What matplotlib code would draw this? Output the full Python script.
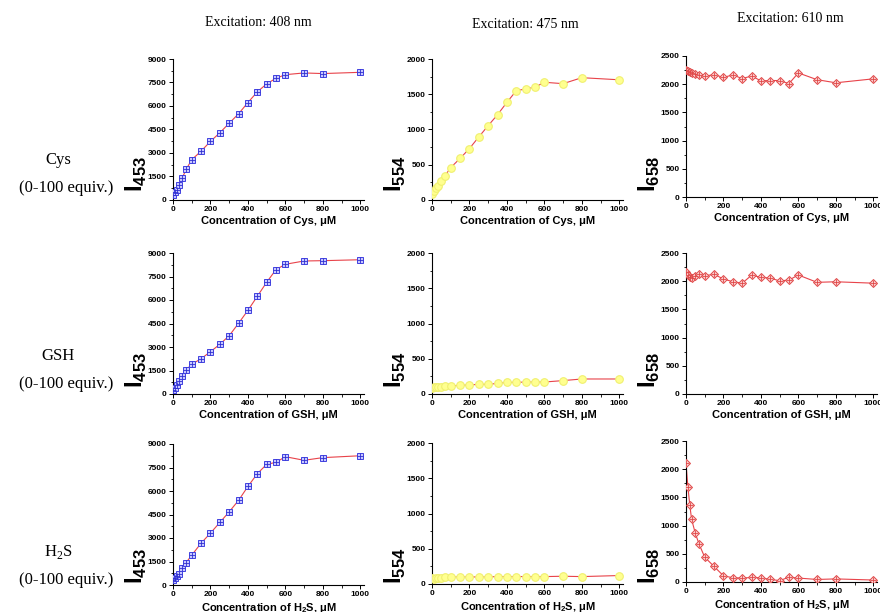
import matplotlib
matplotlib.use("Agg")
import matplotlib.pyplot as plt
from matplotlib.ticker import MultipleLocator

plt.rcParams["mathtext.fontset"] = "custom"
plt.rcParams["mathtext.rm"] = "Liberation Serif"
plt.rcParams["mathtext.bf"] = "Liberation Sans:bold"

# concentration points (uM)
conc = [0, 10, 20, 30, 50, 70, 100, 150, 200, 250, 300, 350, 400, 450, 500, 550, 600, 700, 800, 1000]

# I453 (excitation 408 nm)
cys_453 = [300, 480, 660, 980, 1420, 1950, 2570, 3120, 3740, 4290, 4900, 5500, 6220, 6900, 7410, 7770, 8000, 8110, 8070, 8150]
gsh_453 = [280, 400, 560, 830, 1170, 1530, 1900, 2250, 2700, 3170, 3720, 4510, 5340, 6230, 7130, 7940, 8280, 8490, 8510, 8570]
h2s_453 = [300, 470, 580, 725, 1070, 1430, 1900, 2670, 3310, 3990, 4670, 5400, 6290, 7100, 7700, 7830, 8190, 7960, 8130, 8250]

# I554 (excitation 475 nm)
cys_554 = [90, 130, 170, 205, 265, 345, 460, 590, 730, 895, 1055, 1210, 1385, 1550, 1575, 1600, 1670, 1650, 1735, 1705]
gsh_554 = [90, 95, 100, 102, 105, 108, 113, 123, 128, 137, 137, 150, 165, 165, 170, 170, 170, 190, 213, 213]
h2s_554 = [80, 75, 82, 85, 90, 95, 100, 100, 100, 100, 100, 105, 105, 105, 105, 105, 105, 110, 105, 120]

# I658 (excitation 610 nm)
cys_658 = [2260, 2240, 2220, 2200, 2180, 2165, 2140, 2170, 2120, 2165, 2100, 2145, 2060, 2065, 2065, 2010, 2200, 2080, 2025, 2095]
gsh_658 = [2165, 2110, 2080, 2065, 2090, 2120, 2100, 2120, 2040, 1990, 1965, 2105, 2070, 2055, 2005, 2020, 2110, 1980, 1990, 1965]
h2s_658 = [2110, 1690, 1370, 1110, 860, 670, 440, 275, 110, 75, 70, 80, 75, 45, 25, 85, 70, 45, 55, 35]

analytes = ["Cys", "GSH", r"H$_\mathrm{2}$S"]
xnames = ["Cys", "GSH", r"H$_\mathbf{2}$S"]
excitations = ["Excitation: 408 nm", "Excitation: 475 nm", "Excitation: 610 nm"]
channels = ["453", "554", "658"]
data = [[cys_453, cys_554, cys_658],
        [gsh_453, gsh_554, gsh_658],
        [h2s_453, h2s_554, h2s_658]]

W, H = 880, 612
fig = plt.figure(figsize=(8.8, 6.12), dpi=100)

col_left = [173, 432, 686]
col_w = 191
row_top = [[59, 59, 56], [253, 253, 253], [444, 443, 441]]
ax_h = 141
row_label_y = [188, 384, 580]

ylims = [9000, 2000, 2500]
ymajor = [1500, 500, 500]

sans = "Liberation Sans"
serif = "Liberation Serif"

for r in range(3):
    for c in range(3):
        top = row_top[r][c]
        ax = fig.add_axes([col_left[c] / W, 1 - (top + ax_h) / H, col_w / W, ax_h / H])
        y = data[r][c]
        ax.plot(conc, y, color="#e8434a", lw=0.8, zorder=2)
        if c == 0:
            ax.plot(conc, y, ls="none", marker="s", ms=4.5, mfc="#c8c8ff",
                    mec="#4040e0", mew=0.7, zorder=3)
            ax.plot(conc, y, ls="none", marker="+", ms=4.5, mec="#3030d0", mew=0.6, zorder=4)
        elif c == 1:
            ax.plot(conc, y, ls="none", marker="o", ms=5.5, mfc="#ffff90",
                    mec="#f0f070", mew=0.8, zorder=3)
        else:
            ax.plot(conc, y, ls="none", marker="D", ms=4.5, mfc="#fbd0d0",
                    mec="#e04848", mew=0.7, zorder=3)
            ax.plot(conc, y, ls="none", marker="+", ms=5, mec="#e04848", mew=0.6, zorder=4)

        ax.set_xlim(0, 1020)
        ax.set_ylim(0, ylims[c])
        ax.xaxis.set_major_locator(MultipleLocator(200))
        ax.xaxis.set_minor_locator(MultipleLocator(100))
        ax.yaxis.set_major_locator(MultipleLocator(ymajor[c]))
        ax.yaxis.set_minor_locator(MultipleLocator(ymajor[c] / 2))
        for s in ["top", "right"]:
            ax.spines[s].set_visible(False)
        for s in ["left", "bottom"]:
            ax.spines[s].set_linewidth(0.8)
        ax.tick_params(which="major", direction="out", length=3, width=0.7, pad=1.5)
        ax.tick_params(which="minor", direction="out", length=1.8, width=0.6)
        for lab in ax.get_xticklabels() + ax.get_yticklabels():
            lab.set_fontsize(6)
            lab.set_fontweight("bold")
            lab.set_fontfamily(sans)

        ax.set_xlabel("Concentration of %s, \u03bcM" % xnames[r], fontsize=8,
                      fontweight="bold", family=sans, labelpad=2)
        # y label: big I with subscript, sitting low beside the row label
        lx = (col_left[c] - 24) / W
        ly = 1 - (row_label_y[r] + 4) / H
        fig.text(lx, ly, r"$\mathbf{I}_{\mathbf{%s}}$" % channels[c], fontsize=17,
                 rotation=90, ha="right", va="bottom")

    fig.text(58 / W, 1 - (row_label_y[r] - 28) / H, analytes[r], ha="center",
             va="center", fontsize=12, family=serif)
    fig.text(66 / W, 1 - row_label_y[r] / H, "(0-100 equiv.)", ha="center",
             va="center", fontsize=12, family=serif)

# column titles
for x, yy, t in zip([258, 525, 790], [22, 24, 18], excitations):
    fig.text(x / W, 1 - yy / H, t, ha="center", va="center", fontsize=10, family=serif)

fig.savefig("out.png", dpi=100)
